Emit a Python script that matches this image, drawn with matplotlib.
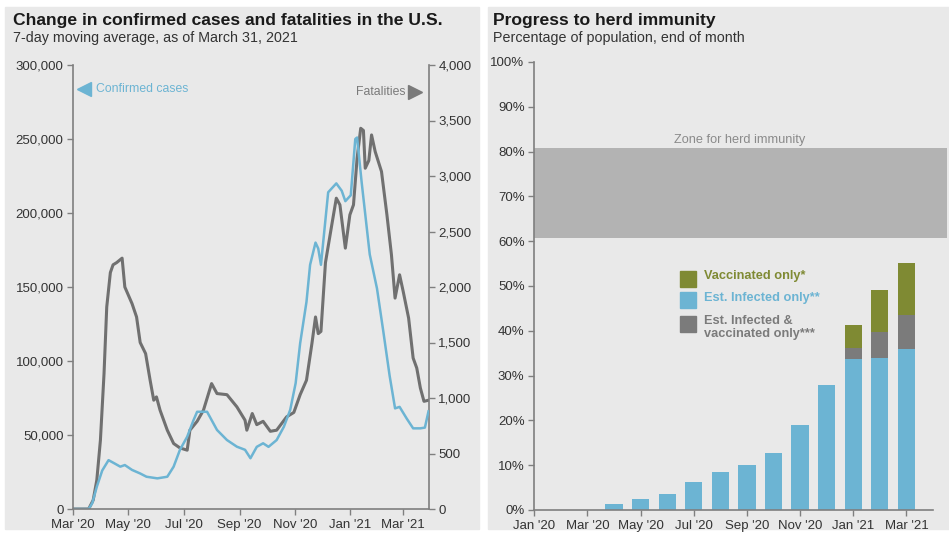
import matplotlib
matplotlib.use("Agg")
import matplotlib.pyplot as plt
from matplotlib.patches import Rectangle
from matplotlib.ticker import FuncFormatter
import numpy as np
import pandas as pd

plt.rcParams['font.family'] = ['Liberation Sans', 'DejaVu Sans']

# ---- data: left panel, 7-day moving averages ----
case_dates = ['2020-03-01', '2020-03-18', '2020-03-22', '2020-03-27', '2020-04-02', '2020-04-09',
              '2020-04-15', '2020-04-22', '2020-04-27', '2020-05-05', '2020-05-14', '2020-05-21',
              '2020-06-02', '2020-06-13', '2020-06-20', '2020-06-27', '2020-07-05', '2020-07-12',
              '2020-07-16', '2020-07-27', '2020-08-07', '2020-08-18', '2020-08-29', '2020-09-07',
              '2020-09-13', '2020-09-20', '2020-09-27', '2020-10-03', '2020-10-12', '2020-10-20',
              '2020-10-27', '2020-11-02', '2020-11-07', '2020-11-14', '2020-11-18', '2020-11-24',
              '2020-11-27', '2020-11-30', '2020-12-08', '2020-12-17', '2020-12-23', '2020-12-27',
              '2021-01-02', '2021-01-07', '2021-01-09', '2021-01-14', '2021-01-23', '2021-01-31',
              '2021-02-07', '2021-02-14', '2021-02-20', '2021-02-25', '2021-03-05', '2021-03-12',
              '2021-03-20', '2021-03-25', '2021-03-29']
cases = [0, 0, 4000, 15000, 26000, 33000,
         31000, 28600, 29700, 26400, 24000, 21800,
         20700, 21800, 28600, 40000, 48800, 60000,
         65700, 65700, 53400, 46600, 42100, 40000,
         34300, 42000, 44400, 42000, 46600, 55600,
         67000, 85000, 112000, 140000, 165000, 180000,
         176000, 165000, 214000, 220000, 215000, 208000,
         212000, 250000, 251000, 221000, 172000, 149000,
         120000, 90000, 68000, 69000, 61000, 54500,
         54500, 55000, 66000]

death_dates = ['2020-03-01', '2020-03-18', '2020-03-23', '2020-03-27', '2020-03-31', '2020-04-04',
               '2020-04-07', '2020-04-11', '2020-04-14', '2020-04-18', '2020-04-21', '2020-04-24',
               '2020-04-27', '2020-05-05', '2020-05-10', '2020-05-14', '2020-05-20', '2020-05-25',
               '2020-05-29', '2020-06-01', '2020-06-05', '2020-06-13', '2020-06-20', '2020-06-27',
               '2020-07-05', '2020-07-08', '2020-07-16', '2020-07-23', '2020-08-01', '2020-08-07',
               '2020-08-18', '2020-08-29', '2020-09-07', '2020-09-09', '2020-09-15', '2020-09-20',
               '2020-09-27', '2020-10-05', '2020-10-12', '2020-10-23', '2020-10-31', '2020-11-07',
               '2020-11-14', '2020-11-20', '2020-11-24', '2020-11-27', '2020-11-30', '2020-12-05',
               '2020-12-12', '2020-12-17', '2020-12-21', '2020-12-27', '2021-01-01', '2021-01-05',
               '2021-01-09', '2021-01-13', '2021-01-16', '2021-01-18', '2021-01-22', '2021-01-25',
               '2021-01-29', '2021-02-05', '2021-02-11', '2021-02-16', '2021-02-20', '2021-02-25',
               '2021-03-01', '2021-03-07', '2021-03-12', '2021-03-16', '2021-03-20', '2021-03-24',
               '2021-03-29']
deaths = [0, 0, 80, 260, 620, 1220,
          1820, 2130, 2200, 2220, 2240, 2260,
          2000, 1850, 1730, 1500, 1400, 1160,
          980, 1010, 890, 710, 590, 550,
          530, 710, 790, 890, 1130, 1040,
          1030, 920, 800, 710, 860, 760,
          790, 700, 710, 830, 870, 1030,
          1160, 1490, 1730, 1580, 1600, 2220,
          2560, 2800, 2740, 2350, 2650, 2740,
          3160, 3430, 3410, 3070, 3140, 3370,
          3220, 3040, 2650, 2290, 1900, 2110,
          1960, 1720, 1360, 1270, 1090, 970,
          980]

date_ticks = ['2020-03-01', '2020-05-01', '2020-07-01', '2020-09-01',
              '2020-11-01', '2021-01-01', '2021-03-01']
date_tick_labels = ["Mar '20", "May '20", "Jul '20", "Sep '20", "Nov '20", "Jan '21", "Mar '21"]

# ---- data: right panel, % of population at end of month ----
months = ["Jan '20", "Feb '20", "Mar '20", "Apr '20", "May '20", "Jun '20", "Jul '20", "Aug '20",
          "Sep '20", "Oct '20", "Nov '20", "Dec '20", "Jan '21", "Feb '21", "Mar '21"]
infected_only = [0, 0, 0, 1.3, 2.4, 3.6, 6.3, 8.4, 10.1, 12.7, 19.0, 28.0, 33.7, 33.9, 36.0]
infected_and_vacc = [0, 0, 0, 0, 0, 0, 0, 0, 0, 0, 0, 0, 2.4, 5.8, 7.5]
vaccinated_only = [0, 0, 0, 0, 0, 0, 0, 0, 0, 0, 0, 0, 5.3, 9.3, 11.6]
herd_zone = (60.8, 80.7)

BLUE = '#6cb4d3'
GRAY = '#707070'
OLIVE = '#7f8a33'
BARGRAY = '#7b7b7b'
SPINE = '#7f7f7f'
TXT = '#333333'
BG = '#e9e9e9'

W, H = 949, 538
fx = lambda px: px / W
fy = lambda py: 1 - py / H

fig = plt.figure(figsize=(9.49, 5.38), dpi=100, facecolor='white')
fig.patches.append(Rectangle((fx(5), fy(529)), fx(479) - fx(5), fy(7) - fy(529),
                             transform=fig.transFigure, color=BG, zorder=-5))
fig.patches.append(Rectangle((fx(488), fy(529)), fx(949) - fx(488), fy(7) - fy(529),
                             transform=fig.transFigure, color=BG, zorder=-5))


def style_axis(a):
    a.set_facecolor('none')
    for s in a.spines.values():
        s.set_color(SPINE)
        s.set_linewidth(1.2)
    a.spines['top'].set_visible(False)
    a.tick_params(colors=SPINE, labelcolor=TXT, labelsize=9.5, length=4, width=1, pad=3)


# ---- left panel ----
ax = fig.add_axes([fx(73.3), fy(509), fx(428.5) - fx(73.3), fy(65) - fy(509)])
ax2 = ax.twinx()
style_axis(ax)
style_axis(ax2)
ax.spines['right'].set_visible(False)
ax2.spines['left'].set_visible(False)
ax2.spines['bottom'].set_visible(False)

ax2.plot(pd.to_datetime(death_dates), deaths, color=GRAY, lw=2.2, solid_joinstyle='round')
ax.plot(pd.to_datetime(case_dates), cases, color=BLUE, lw=1.8, solid_joinstyle='round')
ax2.set_zorder(1)
ax.set_zorder(2)

ax.set_xlim(pd.Timestamp('2020-03-01'), pd.Timestamp('2021-03-29'))
ax.set_ylim(0, 300000)
ax2.set_ylim(0, 4000)
ax.set_yticks(np.arange(0, 300001, 50000))
ax2.set_yticks(np.arange(0, 4001, 500))
ax.yaxis.set_major_formatter(FuncFormatter(lambda v, p: f'{int(v):,}'))
ax2.yaxis.set_major_formatter(FuncFormatter(lambda v, p: f'{int(v):,}'))
ax.set_xticks(pd.to_datetime(date_ticks))
ax.set_xticklabels(date_tick_labels)

ax.plot([0.03], [0.946], marker='<', ms=10, color=BLUE, transform=ax.transAxes, clip_on=False)
ax.text(0.064, 0.946, 'Confirmed cases', color=BLUE, fontsize=8.8, va='center',
        transform=ax.transAxes)
ax.plot([0.962], [0.939], marker='>', ms=10, color='#7a7a7a', transform=ax.transAxes, clip_on=False)
ax.text(0.934, 0.939, 'Fatalities', color='#7a7a7a', fontsize=8.8, va='center', ha='right',
        transform=ax.transAxes)

fig.text(fx(13), fy(20), 'Change in confirmed cases and fatalities in the U.S.',
         fontsize=12.6, fontweight='bold', color='#1a1a1a', va='center')
fig.text(fx(13), fy(38), '7-day moving average, as of March 31, 2021',
         fontsize=10.3, color=TXT, va='center')

# ---- right panel ----
bx = fig.add_axes([fx(534.3), fy(510), fx(933) - fx(534.3), fy(62) - fy(510)])
bx.set_zorder(1)
style_axis(bx)
bx.spines['right'].set_visible(False)

x = np.arange(len(months))
bw = 0.65
inf = np.array(infected_only)
both = np.array(infected_and_vacc)
vac = np.array(vaccinated_only)
bx.axhspan(herd_zone[0], herd_zone[1], xmin=0, xmax=(947 - 534.3) / (933 - 534.3),
           color='#b3b3b3', lw=0, clip_on=False, zorder=0)
bx.bar(x, inf, bw, color=BLUE, zorder=2)
bx.bar(x, both, bw, bottom=inf, color=BARGRAY, zorder=2)
bx.bar(x, vac, bw, bottom=inf + both, color=OLIVE, zorder=2)
bx.text(7.74, 82.6, 'Zone for herd immunity', color='#8a8a8a', fontsize=9.2,
        ha='center', va='center')

bx.set_xlim(0, 15)
bx.set_ylim(0, 100)
bx.set_yticks(np.arange(0, 101, 10))
bx.yaxis.set_major_formatter(FuncFormatter(lambda v, p: f'{int(v)}%'))
bx.set_xticks(x[::2])
bx.set_xticklabels(months[::2])

legend_rows = [('Vaccinated only*', OLIVE, 279),
               ('Est. Infected only**', BLUE, 300),
               ('Est. Infected &\nvaccinated only***', BARGRAY, 324)]
for label, col, py in legend_rows:
    fig.patches.append(Rectangle((fx(680), fy(py + 8)), fx(16), 16 / H,
                                 transform=fig.transFigure, color=col, zorder=3))
    fig.text(fx(704), fy(py - 8.5), label, color=col, fontsize=9.2, fontweight='bold',
             va='top', linespacing=1.1)

fig.text(fx(493), fy(20), 'Progress to herd immunity',
         fontsize=12.6, fontweight='bold', color='#1a1a1a', va='center')
fig.text(fx(493), fy(38), 'Percentage of population, end of month',
         fontsize=10.3, color=TXT, va='center')

fig.savefig('out.png', dpi=100, facecolor='white')
